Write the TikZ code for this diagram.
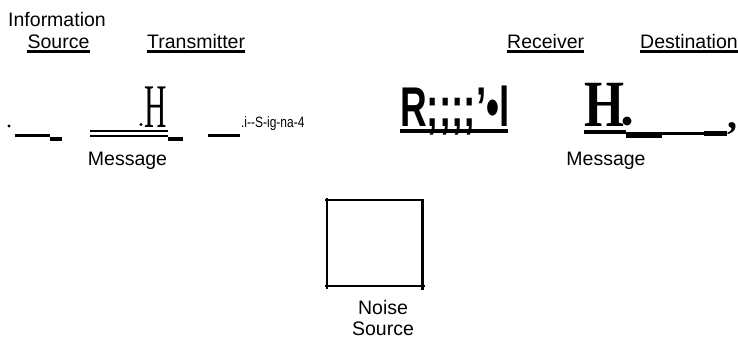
\documentclass[tikz,border=0pt]{standalone}
\usepackage{fontspec}
\setmainfont{Liberation Sans}
\newfontfamily\serifH{Liberation Serif}
\begin{document}
\begin{tikzpicture}[x=1pt,y=-1pt,
  lbl/.style={font=\fontsize{19.5}{21.5}\selectfont, inner sep=0pt},
  sig/.style={font=\fontsize{15}{17}\selectfont, inner sep=0pt, xscale=0.8},
  ul/.style={line width=3pt},
  bar/.style={line width=3pt},
  boxline/.style={line width=2pt},
]
\useasboundingbox (0,0) rectangle (738,340);
% top labels
\node[lbl, anchor=base] (info) at (57,27) {Information};
\node[lbl, anchor=base] (src) at (58.5,48) {Source};
\draw[ul] ([yshift=-3.5pt]src.base west) -- ([yshift=-3.5pt]src.base east);
\node[lbl, anchor=base west] (tx) at (147,48) {Transmitter};
\draw[ul] ([yshift=-3.5pt]tx.base west) -- ([yshift=-3.5pt]tx.base east);
\node[lbl, anchor=base west] (rx) at (507,48) {Receiver};
\draw[ul] ([yshift=-3.5pt]rx.base west) -- ([yshift=-3.5pt]rx.base east);
\node[lbl, anchor=base west] (dst) at (640,48) {Destination};
\draw[ul] ([yshift=-3.5pt]dst.base west) -- ([yshift=-3.5pt]dst.base east);
% left row
\fill (9,126) circle (1.6);
\coordinate (a1) at (15,135); \coordinate (a2) at (50,135);
\draw[bar] (a1) -- (a2);
\coordinate (a3) at (62,139);
\draw[line width=3.5pt] (50,139) -- (a3);
\coordinate (d1) at (90,131); \coordinate (d2) at (168,131);
\coordinate (d3) at (90,136); \coordinate (d4) at (168,136);
\draw[line width=2pt] (d1) -- (d2);
\draw[line width=2pt] (d3) -- (d4);
\node[inner sep=0pt, anchor=base, font=\serifH\fontsize{62}{62}\selectfont, xscale=0.5] (hl) at (156,127) {H};
\fill (141,124.5) circle (1.7);
\coordinate (b1) at (168,139); \coordinate (b2) at (183,139);
\draw[line width=3.5pt] (b1) -- (b2);
\coordinate (c1) at (208,135); \coordinate (c2) at (240,135);
\draw[bar] (c1) -- (c2);
\node[sig, anchor=base west] (signal) at (241,127) {.i-{}-S-ig-na-4};
\node[lbl, anchor=base] (msg1) at (127.5,165) {Message};
% receiver
\node[inner sep=0pt, anchor=base west, font=\bfseries\fontsize{56}{56}\selectfont, xscale=0.66] (rcv) at (400,126) {R;;;;{\char"27}•l};
\draw[line width=4pt] (400,131) -- (508,131);
% destination
\node[inner sep=0pt, anchor=base west, font=\serifH\bfseries\fontsize{66}{66}\selectfont, xscale=0.78] (hr) at (584,126) {H};
\fill (627,121) circle (4.5);
\draw[line width=4.5pt] (584,132) -- (626,132);
\draw[line width=6pt] (626,135) -- (662,135);
\draw[line width=3pt] (662,133) -- (704,133);
\draw[line width=5pt] (704,133) -- (727,133);
\node[inner sep=0pt, anchor=base, font=\serifH\bfseries\fontsize{40}{40}\selectfont] (comma) at (732,128) {,};
\node[lbl, anchor=base] (msg2) at (606,165) {Message};
% noise source
\draw[boxline] (325,200) -- (424,200);
\draw[boxline] (327,198) -- (327,289);
\draw[line width=3pt] (422,199) -- (422,290);
\draw[boxline] (325,286) -- (425,286);
\node[lbl, align=center, anchor=north] (noise) at (383,300) {Noise\\Source};
\end{tikzpicture}
\end{document}
